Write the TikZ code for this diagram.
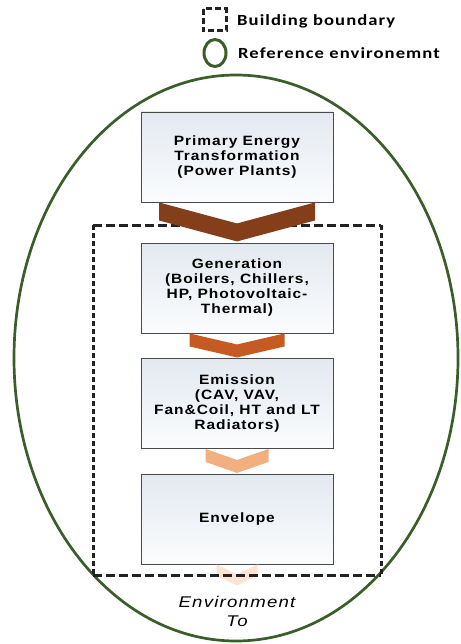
\documentclass[tikz,border=0pt]{standalone}
\usepackage{fontspec}
\usetikzlibrary{calc}
\newfontfamily\boxfont{Liberation Sans}[FakeStretch=1.15,LetterSpace=7]
\newfontfamily\envfont{Liberation Sans}[FakeStretch=1.2,LetterSpace=8]
\newfontfamily\legfont{Carlito}[FakeStretch=1.2,LetterSpace=7]
\definecolor{envgreen}{HTML}{3A5E2A}
\definecolor{boxline}{HTML}{4A4A4A}
\definecolor{boxtop}{HTML}{E3E9F0}
\definecolor{boxbot}{HTML}{FBFCFD}
\definecolor{chevA}{HTML}{843F1A}
\definecolor{chevB}{HTML}{C55A22}
\definecolor{chevC}{HTML}{F2AF80}
\definecolor{chevD}{HTML}{FBE4D3}
\definecolor{dashcol}{HTML}{222222}
\tikzset{
  stagebox/.style={draw=boxline, line width=0.9pt, top color=boxtop, bottom color=boxbot,
    minimum width=192pt, minimum height=90pt, inner sep=0pt, align=center,
    font=\boxfont\bfseries\fontsize{13.5}{15}\selectfont},
  legtext/.style={anchor=west, inner sep=0pt, font=\legfont\bfseries\fontsize{15.5}{18}\selectfont},
  envtext/.style={align=center, inner sep=0pt, font=\envfont\itshape\fontsize{15.5}{19}\selectfont},
  hdash/.style={draw=dashcol, line width=3pt, dash pattern=on 9pt off 4pt},
  vdash/.style={draw=dashcol, line width=3pt, dash pattern=on 5pt off 3pt},
  envline/.style={draw=envgreen, line width=2.7pt}
}
\newcommand{\chevron}[6]{% anchor, halfwidth, thickness, depth, fill, name
  \fill[#5] ($(#1)+(-#2,0)$) -- ($(#1)+(0,#4)$) -- ($(#1)+(#2,0)$) -- ($(#1)+(#2,#3)$)
    -- ($(#1)+(0,#3+#4)$) -- ($(#1)+(-#2,#3)$) -- cycle;
}
\begin{document}
\begin{tikzpicture}[x=1pt,y=-1pt]
\useasboundingbox (0,0) rectangle (460,644);
% legend
\draw[vdash, dash pattern=on 6pt off 3pt] (203,9) rectangle (226,31);
\node[legtext] (lb) at (237,21) {Building boundary};
\draw[envline, line width=3pt] (215,53) ellipse [x radius=11, y radius=13.5];
\node[legtext] (le) at (238,53) {Reference environemnt};
% reference environment
\draw[envline] (236,358) ellipse [x radius=222, y radius=283];
% stages
\node[stagebox] (p) at (237,157) {Primary Energy\\Transformation\\(Power Plants)};
\node[stagebox] (g) at (237,288) {Generation\\(Boilers, Chillers,\\HP, Photovoltaic-\\Thermal)};
\node[stagebox] (e) at (237,403.5) {Emission\\(CAV, VAV,\\Fan\&Coil, HT and LT\\Radiators)};
\node[stagebox] (v) at (237,519) {Envelope};
\node[envtext] (o) at (237,611) {Environment\\To};
% last chevron (under the boundary)
\chevron{v.south}{20.5}{11}{10}{chevD}{c4}
% building boundary
\coordinate (bTL) at (93,225);
\coordinate (bBR) at (381,575);
\draw[hdash] (bTL) -- (bTL -| bBR);
\draw[hdash] (bTL |- bBR) -- (bBR);
\draw[vdash] (bTL) -- (bTL |- bBR);
\draw[vdash] (bTL -| bBR) -- (bBR);
% chevrons
\chevron{p.south}{78}{18}{21}{chevA}{c1}
\chevron{g.south}{47.5}{13}{11}{chevB}{c2}
\chevron{e.south}{31.5}{13}{11}{chevC}{c3}
\end{tikzpicture}
\end{document}
